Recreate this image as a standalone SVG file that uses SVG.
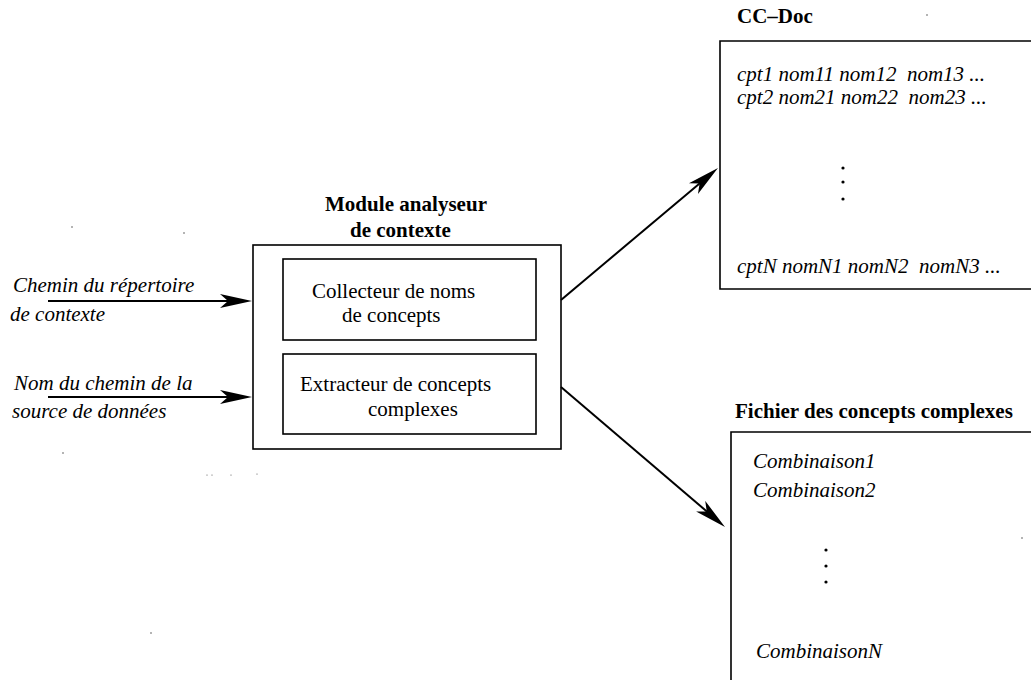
<svg xmlns="http://www.w3.org/2000/svg" width="1031" height="680" viewBox="0 0 1031 680">
<defs>
<style>
text{font-family:"Liberation Serif","Times New Roman",serif;font-size:21px;fill:#000}
.b{font-weight:bold}
.i{font-style:italic}
.pre{white-space:pre}
.box{fill:none;stroke:#000;stroke-width:1.6}
.conn{fill:none;stroke:#000;stroke-width:2}
.speck{fill:#555}
</style>
<marker id="ah" viewBox="0 0 32 16" refX="22" refY="8" markerWidth="32" markerHeight="16" markerUnits="userSpaceOnUse" orient="auto">
<path d="M0,1 L32,8 L0,15 L8,8 Z" fill="#000"/>
</marker>
</defs>
<rect width="1031" height="680" fill="#fff"/>

<g id="input1">
<text class="i" x="13" y="292">Chemin du répertoire</text>
<text class="i" x="10" y="321">de contexte</text>
</g>
<g id="input2">
<text class="i" x="14" y="390">Nom du chemin de la</text>
<text class="i" x="12" y="418">source de données</text>
</g>

<g id="module">
<text class="b" x="325" y="211" textLength="162">Module analyseur</text>
<text class="b" x="350" y="237">de contexte</text>
<rect class="box" x="253" y="245" width="308" height="204"/>
</g>
<g id="collecteur">
<rect class="box" x="283" y="259" width="253" height="81"/>
<text x="312" y="298">Collecteur de noms</text>
<text x="342" y="322">de concepts</text>
</g>
<g id="extracteur">
<rect class="box" x="283" y="354" width="253" height="80"/>
<text x="300" y="391">Extracteur de concepts</text>
<text x="368" y="416">complexes</text>
</g>

<g id="ccdoc">
<text class="b" x="737" y="23">CC–Doc</text>
<path class="box" d="M1032,41 H720 V289 H1032"/>
<text class="i pre" x="737" y="81" xml:space="preserve">cpt1 nom11 nom12  nom13 ...</text>
<text class="i pre" x="737" y="104" xml:space="preserve">cpt2 nom21 nom22  nom23 ...</text>
<circle cx="843" cy="168" r="1.6"/>
<circle cx="843" cy="182" r="1.6"/>
<circle cx="843" cy="199" r="1.6"/>
<text class="i pre" x="737" y="273" xml:space="preserve">cptN nomN1 nomN2  nomN3 ...</text>
</g>

<g id="fichier">
<text class="b" x="735" y="418">Fichier des concepts complexes</text>
<path class="box" d="M1032,432 H731 V681"/>
<text class="i" x="753" y="468">Combinaison1</text>
<text class="i" x="753" y="497">Combinaison2</text>
<circle cx="826" cy="550" r="1.6"/>
<circle cx="826" cy="566" r="1.6"/>
<circle cx="826" cy="582" r="1.6"/>
<text class="i" x="756" y="658">CombinaisonN</text>
</g>

<g id="connectors">
<path class="conn" d="M48,301 H242" marker-end="url(#ah)"/>
<path class="conn" d="M48,397 H242" marker-end="url(#ah)"/>
<path class="conn" d="M561,300 L710.3,174.4" marker-end="url(#ah)"/>
<path class="conn" d="M561,387 L717.4,520.5" marker-end="url(#ah)"/>
</g>

<g id="specks">
<circle class="speck" cx="72" cy="227" r="0.8"/>
<circle class="speck" cx="184" cy="233" r="0.8"/>
<circle class="speck" cx="63" cy="453" r="0.8"/>
<circle class="speck" cx="207" cy="475" r="0.6"/>
<circle class="speck" cx="212" cy="475" r="0.6"/>
<circle class="speck" cx="231" cy="475" r="0.6"/>
<circle class="speck" cx="257" cy="474" r="0.6"/>
<circle class="speck" cx="927" cy="15" r="0.8"/>
<circle class="speck" cx="1022" cy="538" r="0.8"/>
<circle class="speck" cx="151" cy="633" r="0.8"/>
</g>
</svg>
